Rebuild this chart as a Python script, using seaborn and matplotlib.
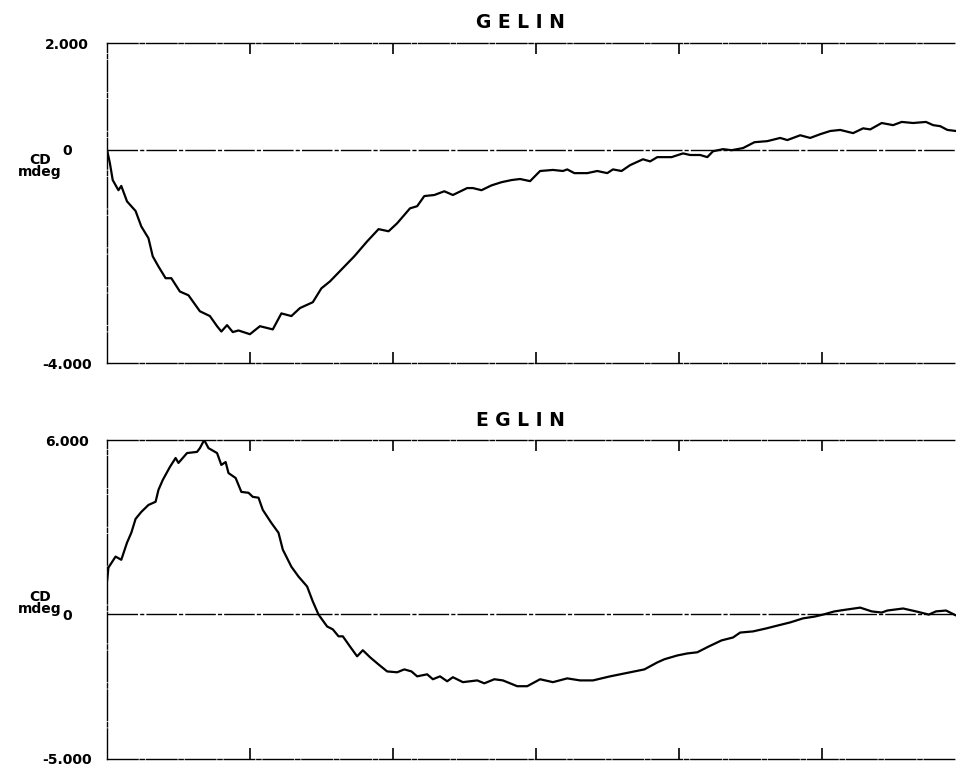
import matplotlib
matplotlib.use("Agg")
import matplotlib.pyplot as plt
import seaborn as sns
import pandas as pd

# ---- data (wavelength-like x positions, CD in mdeg) ----
gelin_x = [190.0, 190.2, 190.4, 190.8, 191.0, 191.4, 192.0, 192.4, 192.9, 193.2, 193.6, 194.1, 194.5,
           195.1, 195.7, 196.5, 197.2, 197.7, 198.0, 198.4, 198.8, 199.2, 200.0, 200.7, 201.6, 202.2,
           202.9, 203.5, 204.4, 205.0, 205.6, 207.3, 208.2, 209.0, 209.7, 210.3, 211.2, 211.7, 212.2,
           212.9, 213.6, 214.2, 215.2, 215.6, 216.2, 216.9, 217.6, 218.3, 218.9, 219.6, 220.3, 221.2,
           221.9, 222.2, 222.7, 223.6, 224.3, 225.0, 225.4, 226.0, 226.6, 227.5, 228.0, 228.5, 229.5,
           230.3, 230.8, 231.5, 232.0, 232.4, 233.1, 233.7, 234.5, 235.3, 236.2, 237.1, 237.6, 238.5,
           239.2, 239.9, 240.6, 241.3, 242.2, 242.9, 243.4, 244.2, 245.0, 245.6, 246.4, 247.3, 247.8,
           248.3, 248.8, 249.4]
gelin_cd = [0.0, -0.25, -0.57, -0.76, -0.68, -0.97, -1.15, -1.44, -1.66, -2.00, -2.19, -2.41, -2.41,
            -2.66, -2.73, -3.03, -3.12, -3.31, -3.41, -3.29, -3.42, -3.39, -3.46, -3.31, -3.37, -3.07,
            -3.12, -2.97, -2.86, -2.60, -2.47, -2.00, -1.72, -1.49, -1.53, -1.38, -1.10, -1.06, -0.87,
            -0.85, -0.78, -0.85, -0.72, -0.72, -0.76, -0.67, -0.61, -0.57, -0.55, -0.59, -0.40, -0.38,
            -0.40, -0.37, -0.44, -0.44, -0.40, -0.44, -0.37, -0.40, -0.29, -0.18, -0.22, -0.14, -0.14,
            -0.07, -0.10, -0.10, -0.14, -0.03, 0.01, -0.01, 0.03, 0.14, 0.16, 0.22, 0.18, 0.27,
            0.22, 0.29, 0.35, 0.37, 0.31, 0.40, 0.38, 0.50, 0.46, 0.52, 0.50, 0.52, 0.46,
            0.44, 0.37, 0.35]

eglin_x = [190.0, 190.1, 190.6, 191.0, 191.4, 191.7, 192.0, 192.4, 192.9, 193.4, 193.6, 193.9, 194.4,
           194.8, 195.0, 195.6, 196.3, 196.5, 196.8, 197.1, 197.7, 198.0, 198.3, 198.5, 199.0, 199.4,
           199.9, 200.2, 200.6, 200.9, 201.5, 202.0, 202.3, 202.9, 203.4, 204.0, 204.4, 204.8, 205.4,
           205.8, 206.2, 206.5, 207.0, 207.5, 207.9, 208.4, 209.0, 209.6, 210.3, 210.8, 211.3, 211.7,
           212.4, 212.8, 213.3, 213.8, 214.2, 214.9, 215.9, 216.4, 217.1, 217.7, 218.7, 219.4, 220.3,
           221.2, 222.2, 223.1, 224.0, 225.2, 225.9, 226.6, 227.6, 228.5, 229.0, 229.9, 230.6, 231.3,
           232.1, 233.0, 233.8, 234.3, 235.2, 236.1, 236.9, 237.8, 238.7, 239.5, 240.1, 240.9, 241.7,
           242.7, 243.5, 244.2, 244.6, 245.7, 246.6, 247.5, 248.0, 248.7, 249.4]
eglin_cd = [1.12, 1.60, 1.98, 1.87, 2.46, 2.80, 3.28, 3.52, 3.76, 3.87, 4.28, 4.62, 5.07,
            5.38, 5.21, 5.55, 5.59, 5.72, 6.00, 5.72, 5.55, 5.14, 5.24, 4.86, 4.69, 4.21,
            4.18, 4.04, 4.01, 3.59, 3.14, 2.80, 2.22, 1.63, 1.29, 0.95, 0.43, -0.02, -0.43,
            -0.53, -0.77, -0.77, -1.12, -1.46, -1.25, -1.49, -1.74, -1.98, -2.01, -1.91, -1.98, -2.15,
            -2.08, -2.25, -2.15, -2.32, -2.18, -2.35, -2.29, -2.39, -2.25, -2.29, -2.49, -2.49, -2.25,
            -2.35, -2.22, -2.29, -2.29, -2.15, -2.08, -2.01, -1.91, -1.67, -1.56, -1.43, -1.36, -1.32,
            -1.12, -0.91, -0.81, -0.64, -0.60, -0.50, -0.40, -0.29, -0.15, -0.09, -0.02, 0.09, 0.15,
            0.22, 0.09, 0.05, 0.12, 0.19, 0.09, -0.02, 0.09, 0.12, -0.05]

x_ticks = [200, 210, 220, 230, 240]
gelin_yticks = [-4, 0, 2]
gelin_ylabels = ["-4.000", "0", "2.000"]
eglin_yticks = [-5, 0, 6]
eglin_ylabels = ["-5.000", "0", "6.000"]

sns.set_style("white")
plt.rcParams["font.family"] = ["DejaVu Sans"]
plt.rcParams["text.color"] = "black"
plt.rcParams["xtick.color"] = "black"
plt.rcParams["ytick.color"] = "black"

W, H = 956, 766
fig = plt.figure(figsize=(W / 100, H / 100), dpi=100)

dash = (0, (22, 1.5, 3, 1.5))


def panel(rect, xs, ys, yticks, ylabels, ylim, title, title_y, cd_y):
    ax = fig.add_axes(rect)
    df = pd.DataFrame({"x": xs, "cd": ys})
    sns.lineplot(data=df, x="x", y="cd", ax=ax, color="black", lw=1.6, sort=False, estimator=None)
    ax.axhline(0, color="black", lw=1.0, ls=dash, zorder=1)
    ax.set_xlim(190, 249.4)
    ax.set_ylim(*ylim)
    ax.set_xticks(x_ticks)
    ax.set_xticklabels([])
    ax.set_yticks(yticks)
    ax.set_yticklabels(ylabels, fontsize=10, fontweight="bold", color="black")
    for lab in ax.get_yticklabels():
        lab.set_ha("center")
    ax.tick_params(axis="x", direction="in", top=True, bottom=True, length=8, width=1.2, color="black")
    ax.tick_params(axis="y", length=0, pad=29)
    ax.set_xlabel("")
    ax.set_ylabel("")
    for side in ["top", "bottom", "left"]:
        ax.spines[side].set_color("black")
        ax.spines[side].set_linewidth(1.0)
        ax.spines[side].set_linestyle(dash)
    ax.spines["right"].set_visible(False)
    fig.text(520 / W, 1 - title_y / H, title, ha="center", va="center",
             fontsize=13.5, fontweight="heavy", color="black")
    fig.text(40 / W, 1 - cd_y / H, "CD\nmdeg", ha="center", va="center",
             fontsize=10, fontweight="bold", linespacing=0.85, color="black")
    return ax


panel([107 / W, 1 - 363 / H, 1 - 107 / W, 320 / H], gelin_x, gelin_cd,
      gelin_yticks, gelin_ylabels, (-4, 2), "G E L I N", 23, 166)
panel([107 / W, 1 - 759 / H, 1 - 107 / W, 319 / H], eglin_x, eglin_cd,
      eglin_yticks, eglin_ylabels, (-5, 6), "E G L I N", 421, 603)

fig.savefig("out.png", dpi=100)
